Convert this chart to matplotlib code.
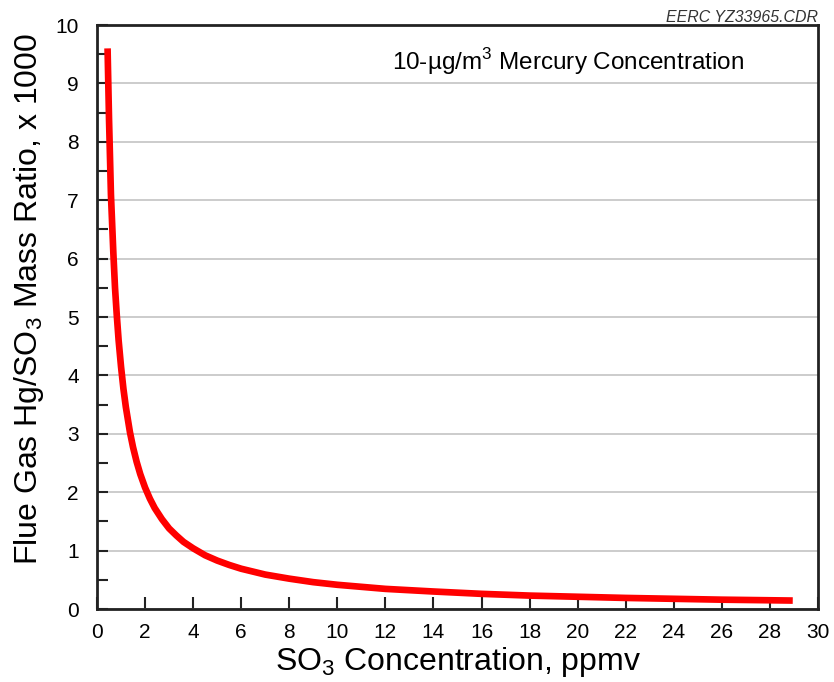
import numpy as np
import matplotlib.pyplot as plt
from matplotlib.ticker import MultipleLocator

plt.rcParams['font.family'] = ['Liberation Sans', 'DejaVu Sans']
plt.rcParams['mathtext.fontset'] = 'custom'
plt.rcParams['mathtext.rm'] = 'Liberation Sans'

# SO3 concentration (ppmv) and Hg/SO3 mass ratio (x 1000)
so3_ppmv = [0.44, 0.47, 0.5, 0.54, 0.58, 0.63, 0.68, 0.75, 0.82, 0.9, 1.0, 1.1, 1.2,
            1.37, 1.5, 1.65, 1.8, 2.0, 2.2, 2.4, 2.7, 3.0, 3.3, 3.6, 4.0, 4.5, 5.0,
            5.5, 6.0, 7.0, 8.0, 9.0, 10.0, 11.0, 12.0, 14.0, 16.0, 18.0, 20.0,
            22.0, 24.0, 26.0, 28.0, 28.95]
hg_so3_ratio = [9.6, 9.0, 8.4, 7.75, 7.1, 6.6, 6.1, 5.5, 5.05, 4.6, 4.15, 3.77, 3.46,
                3.03, 2.77, 2.52, 2.31, 2.08, 1.89, 1.73, 1.54, 1.38, 1.26, 1.15, 1.04,
                0.92, 0.83, 0.755, 0.69, 0.59, 0.52, 0.46, 0.415, 0.38, 0.345, 0.30,
                0.26, 0.23, 0.21, 0.19, 0.175, 0.16, 0.15, 0.145]

fig = plt.figure(figsize=(8.34, 6.82), dpi=100)
ax = fig.add_axes([0.1163, 0.1070, 0.8645, 0.8563])

ax.plot(so3_ppmv, hg_so3_ratio, color='#ff0000', lw=4.8, solid_capstyle='butt',
        solid_joinstyle='round', zorder=3)

ax.set_xlim(0, 30)
ax.set_ylim(0, 10)
ax.xaxis.set_major_locator(MultipleLocator(2))
ax.yaxis.set_major_locator(MultipleLocator(1))
ax.yaxis.set_minor_locator(MultipleLocator(0.5))
ax.grid(axis='y', which='major', color='#c4c4c4', lw=1.2, zorder=0)
ax.set_axisbelow(True)

ax.tick_params(axis='both', which='both', direction='in', width=1.5, color='#222222',
               labelsize=15, top=False, right=False)
ax.tick_params(axis='x', which='major', length=9, pad=10)
ax.tick_params(axis='y', which='major', length=8, pad=13)
ax.tick_params(axis='y', which='minor', length=8)
for s in ax.spines.values():
    s.set_linewidth(2)
    s.set_color('#222222')

ax.set_xlabel('SO$_3$ Concentration, ppmv', fontsize=23, labelpad=2)
ax.set_ylabel('Flue Gas Hg/SO$_3$ Mass Ratio, x 1000', fontsize=23)
ax.yaxis.set_label_coords(-0.071, 0.53)

ax.text(0.409, 0.937, '10-µg/m$^3$ Mercury Concentration', transform=ax.transAxes,
        fontsize=17.5, ha='left', va='center')
fig.text(0.981, 0.974, 'EERC YZ33965.CDR', fontsize=11.4, style='italic',
         color='#333333', ha='right', va='center')

plt.savefig('out.png', dpi=100)
